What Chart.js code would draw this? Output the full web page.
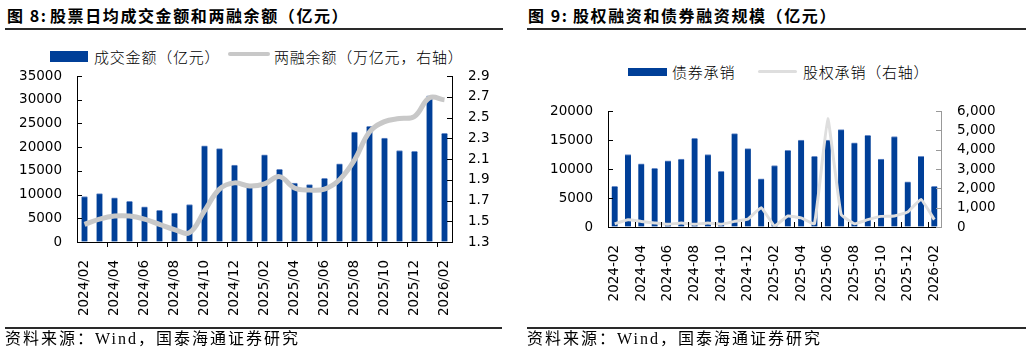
<!DOCTYPE html>
<html>
<head>
<meta charset="utf-8">
<script src="https://cdn.jsdelivr.net/npm/chart.js@4.4.1/dist/chart.umd.min.js"></script>
<style>
  body { margin: 0; width: 1031px; height: 352px; background: #fff; position: relative; overflow: hidden; font-family: "Noto Sans CJK SC", sans-serif; color: #000; }
  .title { position: absolute; top: 7px; font-size: 16px; line-height: 16px; font-weight: bold; letter-spacing: 1.6px; white-space: nowrap; }
  .rule { position: absolute; height: 2px; background: #2a2a2a; }
  .src { position: absolute; top: 331px; font-size: 16px; line-height: 16px; letter-spacing: 2px; white-space: nowrap; font-family: "Liberation Serif", "Noto Sans CJK SC", serif; }
  .lg { position: absolute; font-size: 15px; line-height: 15px; letter-spacing: 0.8px; white-space: nowrap; font-weight: 300; }
  .box { position: absolute; background: #003f98; }
  .ln { position: absolute; border-radius: 2px; }
  canvas { position: absolute; top: 0; }
</style>
</head>
<body>
<div class="title" style="left:7px">图 8:</div>
<div class="title" style="left:50px">股票日均成交金额和两融余额（亿元）</div>
<div class="rule" style="left:5px;width:498px;top:28px"></div>
<div class="title" style="left:528px">图 9:</div>
<div class="title" style="left:573px">股权融资和债券融资规模（亿元）</div>
<div class="rule" style="left:527px;width:499px;top:28px"></div>

<div class="box" style="left:50px;top:51px;width:38px;height:11px"></div>
<div class="lg" style="left:94px;top:49px">成交金额（亿元）</div>
<div class="ln" style="left:228px;top:52px;width:42px;height:4px;background:#c8c8c8"></div>
<div class="lg" style="left:274px;top:49px">两融余额（万亿元，右轴）</div>

<div class="box" style="left:628px;top:68px;width:39px;height:8px"></div>
<div class="lg" style="left:672px;top:64px">债券承销</div>
<div class="ln" style="left:758px;top:70px;width:39px;height:3px;background:#dedede"></div>
<div class="lg" style="left:803px;top:64px">股权承销（右轴）</div>

<canvas id="left" width="515" height="330" style="left:0px"></canvas>
<canvas id="right" width="516" height="330" style="left:515px"></canvas>

<div class="rule" style="left:5px;width:497px;top:327px"></div>
<div class="src" style="left:5px">资料来源：Wind，国泰海通证券研究</div>
<div class="rule" style="left:527px;width:499px;top:327px"></div>
<div class="src" style="left:527px">资料来源：Wind，国泰海通证券研究</div>

<script>
const months = ['2024/02','2024/03','2024/04','2024/05','2024/06','2024/07','2024/08','2024/09','2024/10','2024/11','2024/12',
  '2025/01','2025/02','2025/03','2025/04','2025/05','2025/06','2025/07','2025/08','2025/09','2025/10','2025/11','2025/12',
  '2026/01','2026/02'];
// 成交金额 (亿元)
const turnover = [9600, 10200, 9300, 8600, 7400, 6700, 6100, 7900, 20300, 19700, 16200,
  11700, 18400, 15300, 12400, 12100, 13400, 16500, 23200, 24400, 21900, 19300, 19100, 30800, 22900];
// 两融余额 (万亿元)
const marginBal = [1.47, 1.52, 1.55, 1.55, 1.52, 1.47, 1.42, 1.39, 1.60, 1.81, 1.87,
  1.84, 1.86, 1.93, 1.82, 1.80, 1.81, 1.90, 2.09, 2.36, 2.46, 2.49, 2.51, 2.69, 2.67];
const turnoverTicks = [0, 5000, 10000, 15000, 20000, 25000, 30000, 35000];
const marginTicks = [1.3, 1.5, 1.7, 1.9, 2.1, 2.3, 2.5, 2.7, 2.9];

const months2 = ['2024-02','2024-03','2024-04','2024-05','2024-06','2024-07','2024-08','2024-09','2024-10','2024-11','2024-12',
  '2025-01','2025-02','2025-03','2025-04','2025-05','2025-06','2025-07','2025-08','2025-09','2025-10','2025-11','2025-12',
  '2026-01','2026-02'];
// 债券承销 (亿元)
const bondUw = [7000, 12500, 10900, 10100, 11400, 11700, 15300, 12500, 9600, 16100, 13500,
  8300, 10600, 13200, 15000, 12200, 15000, 16800, 14500, 15800, 11700, 15600, 7800, 12200, 7000];
// 股权承销 (亿元, 右轴)
const equityUw = [170, 380, 290, 210, 140, 210, 140, 210, 140, 290, 410,
  1000, 60, 570, 470, 170, 5600, 650, 170, 380, 550, 570, 780, 1430, 380];
const bondTicks = [0, 5000, 10000, 15000, 20000];
const equityTicks = [0, 1000, 2000, 3000, 4000, 5000, 6000];

const tickFont = { family: 'DejaVu Sans', size: 13.5 };

// short tick marks drawn inward on the y axes and every 2nd category on x
const tickMarks = {
  id: 'tickMarks',
  afterDraw(chart, args, opts) {
    const ctx = chart.ctx;
    const area = chart.chartArea;
    ctx.save();
    ctx.lineWidth = 1;
    Object.values(chart.scales).forEach(s => {
      ctx.strokeStyle = s.options.border.color;
      if (s.axis === 'y') {
        const x = s.position === 'left' ? area.left : area.right;
        const d = s.position === 'left' ? 5 : -5;
        s.ticks.forEach(t => {
          const y = Math.round(s.getPixelForValue(t.value)) + 0.5;
          ctx.beginPath(); ctx.moveTo(x, y); ctx.lineTo(x + d, y); ctx.stroke();
        });
      } else {
        const n = chart.data.labels.length;
        const half = (area.right - area.left) / n / 2;
        for (let i = 2; i < n; i += 2) {
          const x = Math.round(s.getPixelForValue(i) - half) + 0.5;
          ctx.beginPath(); ctx.moveTo(x, area.bottom); ctx.lineTo(x, area.bottom + opts.dir * 5); ctx.stroke();
        }
      }
    });
    ctx.restore();
  }
};

function yAxis(pos, ticks, width, color, fmt) {
  return {
    position: pos,
    min: ticks[0],
    max: ticks[ticks.length - 1],
    afterBuildTicks: s => { s.ticks = ticks.map(v => ({ value: v })); },
    afterFit: s => { s.width = width; },
    grid: { drawOnChartArea: false, drawTicks: false },
    border: { color: color, width: 1 },
    ticks: { font: tickFont, color: '#000', padding: pos === 'left' ? 15 : 16, callback: fmt }
  };
}

function xAxis(labels, height) {
  return {
    offset: true,
    afterFit: s => { s.height = height; },
    grid: { display: false },
    border: { color: '#000', width: 1 },
    ticks: {
      font: tickFont, color: '#000', autoSkip: false, minRotation: 90, maxRotation: 90, padding: 10,
      callback: (v, i) => i % 2 === 0 ? labels[i] : ''
    }
  };
}

new Chart(document.getElementById('left'), {
  type: 'bar',
  data: {
    labels: months,
    datasets: [{
      type: 'line',
      label: '两融余额（万亿元，右轴）',
      data: marginBal,
      yAxisID: 'y1',
      borderColor: '#c8c8c8',
      borderWidth: 5,
      pointRadius: 0,
      tension: 0.4,
      order: 0
    }, {
      label: '成交金额（亿元）',
      data: turnover,
      yAxisID: 'y',
      backgroundColor: '#003f98',
      borderColor: '#6a8cc8',
      borderWidth: { top: 1, left: 0, right: 0, bottom: 0 },
      borderSkipped: 'bottom',
      barThickness: 6,
      order: 1
    }]
  },
  options: {
    responsive: false,
    animation: false,
    devicePixelRatio: 1,
    layout: { padding: { top: 76, left: 0, right: 0, bottom: 0 } },
    plugins: { legend: { display: false }, tooltip: { enabled: false }, tickMarks: { dir: 1 } },
    scales: {
      x: xAxis(months, 88),
      y: yAxis('left', turnoverTicks, 77, '#000', v => v),
      y1: yAxis('right', marginTicks, 63, '#000', v => v.toFixed(1))
    }
  },
  plugins: [tickMarks]
});

new Chart(document.getElementById('right'), {
  type: 'bar',
  data: {
    labels: months2,
    datasets: [{
      type: 'line',
      label: '股权承销（右轴）',
      data: equityUw,
      yAxisID: 'y1',
      borderColor: '#dedede',
      borderWidth: 3,
      pointRadius: 0,
      tension: 0.1,
      order: 0
    }, {
      label: '债券承销',
      data: bondUw,
      yAxisID: 'y',
      backgroundColor: '#003f98',
      borderColor: '#6a8cc8',
      borderWidth: { top: 1, left: 0, right: 0, bottom: 0 },
      borderSkipped: 'bottom',
      barThickness: 6,
      order: 1
    }]
  },
  options: {
    responsive: false,
    animation: false,
    devicePixelRatio: 1,
    layout: { padding: { top: 111, left: 0, right: 0, bottom: 0 } },
    plugins: { legend: { display: false }, tooltip: { enabled: false }, tickMarks: { dir: -1 } },
    scales: {
      x: xAxis(months2, 103),
      y: yAxis('left', bondTicks, 93, '#000', v => v),
      y1: yAxis('right', equityTicks, 90, '#999', v => v.toLocaleString('en-US'))
    }
  },
  plugins: [tickMarks]
});
</script>
</body>
</html>
